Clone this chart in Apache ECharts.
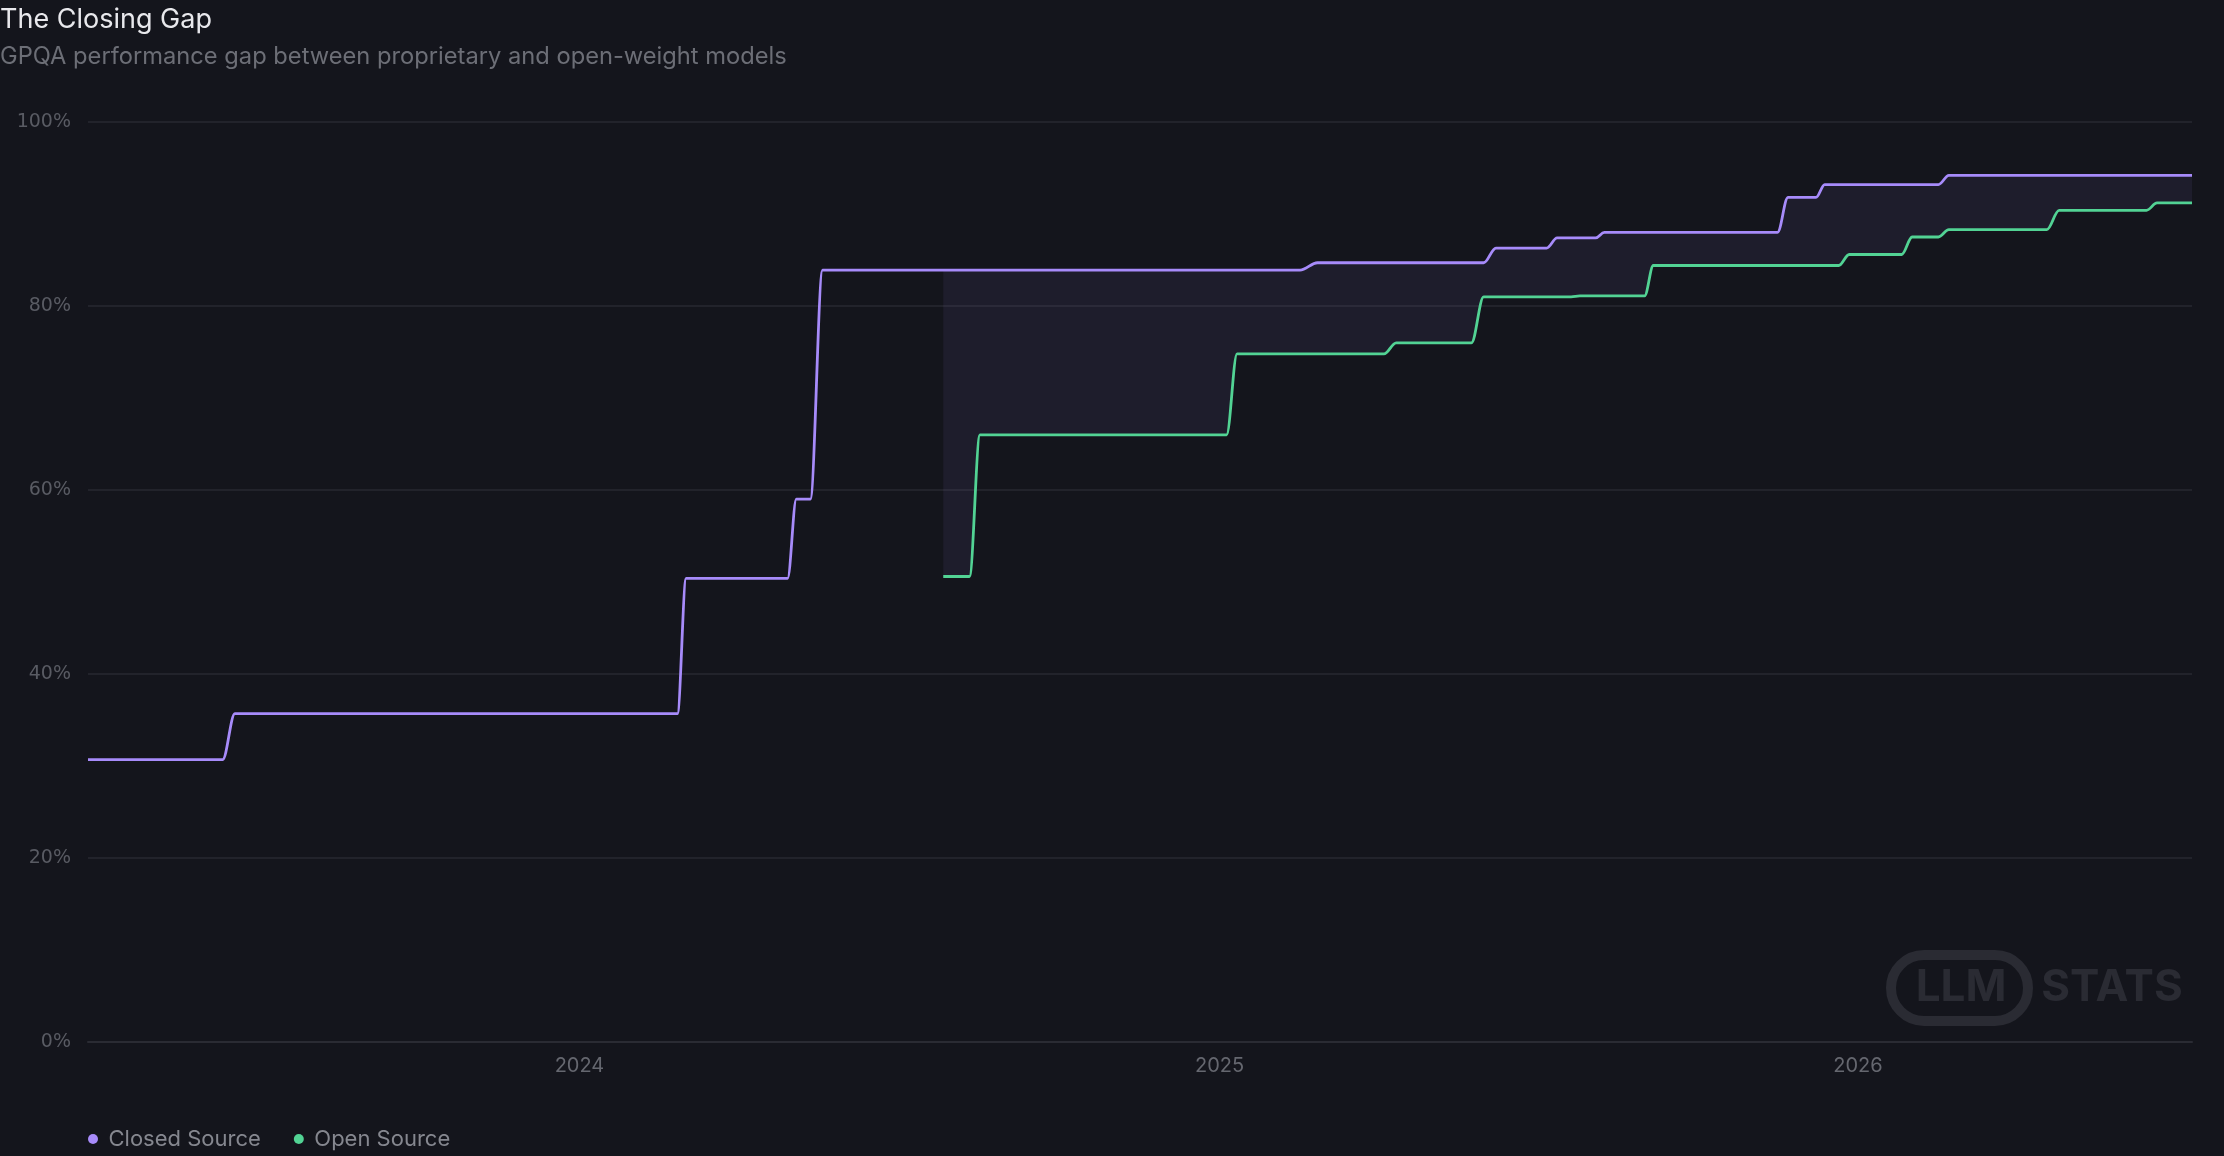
<!DOCTYPE html>
<html>
<head>
<meta charset="utf-8">
<title>The Closing Gap</title>
<script src="https://cdn.jsdelivr.net/npm/echarts@6/dist/echarts.min.js"></script>
<style>
  html, body { margin: 0; padding: 0; background: #14151c; }
  #chart { width: 2224px; height: 1156px; }
</style>
</head>
<body>
<div id="chart"></div>
<script>
  // best GPQA score so far: each step is a pair of points
  // (end of the old plateau, top of the rise)
  const closedDates = ['2023-03-26', '2023-06-11', '2023-06-18', '2024-02-26', '2024-03-02',
    '2024-04-29', '2024-05-04', '2024-05-12', '2024-05-19', '2025-02-16', '2025-02-26',
    '2025-06-01', '2025-06-08', '2025-07-07', '2025-07-13', '2025-08-04', '2025-08-09',
    '2025-11-16', '2025-11-22', '2025-12-08', '2025-12-13', '2026-02-16', '2026-02-22',
    '2026-07-11']
  const closedScores = [30.7, 30.7, 35.7, 35.7, 50.4, 50.4, 59.0, 59.0, 83.9, 83.9, 84.7,
    84.7, 86.3, 86.3, 87.4, 87.4, 88.0, 88.0, 91.8, 91.8, 93.2, 93.2, 94.2, 94.2]

  const openDates = ['2024-07-27', '2024-08-11', '2024-08-17', '2025-01-05', '2025-01-11',
    '2025-04-05', '2025-04-12', '2025-05-25', '2025-06-01', '2025-07-21', '2025-07-26',
    '2025-09-01', '2025-09-06', '2025-12-21', '2025-12-27', '2026-01-26', '2026-02-01',
    '2026-02-16', '2026-02-22', '2026-04-19', '2026-04-26', '2026-06-15', '2026-06-21',
    '2026-07-11']
  const openScores = [50.6, 50.6, 66.0, 66.0, 74.8, 74.8, 76.0, 76.0, 81.0, 81.0, 81.1,
    81.1, 84.4, 84.4, 85.6, 85.6, 87.5, 87.5, 88.3, 88.3, 90.4, 90.4, 91.2, 91.2]

  const yTicks = [0, 20, 40, 60, 80, 100]
  const axisStart = '2023-03-26'
  const axisEnd = '2026-07-11'

  const BG = '#14151c'
  const PURPLE = '#a78bfa'
  const GREEN = '#52d394'

  const toPairs = (dates, vals) => dates.map((d, i) => [d, vals[i]])

  // value of a step series on a plateau
  function valueAt(dates, vals, date) {
    let v = vals[0]
    for (let i = 0; i < dates.length; i++) {
      if (dates[i] <= date) v = vals[i]
    }
    return v
  }

  // shared x points for the shaded gap (stacked: open score + gap)
  const gapDates = Array.from(new Set(
    openDates.concat(closedDates.filter(d => d >= openDates[0]))
  )).sort()
  const gapBase = gapDates.map(d => [d, valueAt(openDates, openScores, d)])
  const gapSize = gapDates.map(d => [d,
    Math.round((valueAt(closedDates, closedScores, d) - valueAt(openDates, openScores, d)) * 100) / 100])

  const chart = echarts.init(document.getElementById('chart'))

  const lineCommon = {
    type: 'line',
    smooth: 0.35,
    smoothMonotone: 'x',
    showSymbol: false,
    symbol: 'none',
    emphasis: { disabled: true },
    animation: false
  }

  chart.setOption({
    backgroundColor: BG,
    animation: false,
    title: [
      {
        text: 'The Closing Gap',
        left: 0,
        top: 6,
        padding: 0,
        textStyle: { color: '#e8e8ec', fontSize: 27, fontWeight: 'normal', fontFamily: 'Inter' }
      },
      {
        text: 'GPQA performance gap between proprietary and open-weight models',
        left: 0,
        top: 45,
        padding: 0,
        textStyle: { color: '#6c6e76', fontSize: 23.7, fontWeight: 'normal', fontFamily: 'Inter' }
      }
    ],
    legend: {
      data: ['Closed Source', 'Open Source'],
      left: 88,
      top: 1128,
      padding: 0,
      icon: 'circle',
      itemWidth: 21,
      itemHeight: 10,
      itemGap: 33,
      textStyle: { color: '#85878f', fontSize: 22, fontFamily: 'Inter' }
    },
    grid: { left: 88, right: 32, top: 122, bottom: 114 },
    xAxis: {
      type: 'time',
      min: axisStart,
      max: axisEnd,
      axisLine: { show: true, lineStyle: { color: '#2a2b33', width: 2 } },
      axisTick: { show: false },
      splitLine: { show: false },
      axisLabel: {
        color: '#65676f',
        fontSize: 20,
        fontFamily: 'Inter',
        margin: 14,
        showMinLabel: false,
        showMaxLabel: false,
        formatter: function (value) {
          const d = new Date(value)
          return d.getMonth() === 0 && d.getDate() === 1 ? String(d.getFullYear()) : ''
        }
      }
    },
    yAxis: {
      type: 'value',
      min: yTicks[0],
      max: yTicks[yTicks.length - 1],
      interval: yTicks[1] - yTicks[0],
      axisLine: { show: false },
      axisTick: { show: false },
      splitLine: { lineStyle: { color: '#22232b', width: 2 } },
      axisLabel: {
        color: '#595b63',
        fontSize: 19,
        fontFamily: 'DejaVu Sans',
        margin: 17,
        formatter: '{value}%'
      }
    },
    graphic: [
      {
        type: 'rect',
        silent: true,
        z: 0,
        shape: { x: 1891, y: 955, width: 137, height: 66, r: 33 },
        style: { fill: 'none', stroke: '#2a2b33', lineWidth: 10 }
      },
      {
        type: 'text',
        silent: true,
        z: 0,
        x: 1961,
        y: 988,
        style: {
          text: 'LLM', fill: '#2a2b33', font: 'bold 44px Inter',
          align: 'center', verticalAlign: 'middle'
        }
      },
      {
        type: 'text',
        silent: true,
        z: 0,
        x: 2112,
        y: 988,
        style: {
          text: 'STATS', fill: '#2a2b33', font: 'bold 44px Inter',
          align: 'center', verticalAlign: 'middle'
        }
      }
    ],
    series: [
      Object.assign({}, lineCommon, {
        name: 'gap-base',
        stack: 'gap',
        silent: true,
        lineStyle: { opacity: 0, width: 0 },
        data: gapBase,
        z: 1
      }),
      Object.assign({}, lineCommon, {
        name: 'gap',
        stack: 'gap',
        silent: true,
        lineStyle: { opacity: 0, width: 0 },
        areaStyle: { color: 'rgba(167, 139, 250, 0.1)' },
        data: gapSize,
        z: 1
      }),
      Object.assign({}, lineCommon, {
        name: 'Closed Source',
        color: PURPLE,
        lineStyle: { color: PURPLE, width: 2.8 },
        data: toPairs(closedDates, closedScores),
        z: 3
      }),
      Object.assign({}, lineCommon, {
        name: 'Open Source',
        color: GREEN,
        lineStyle: { color: GREEN, width: 2.8 },
        data: toPairs(openDates, openScores),
        z: 3
      })
    ]
  })
</script>
</body>
</html>
